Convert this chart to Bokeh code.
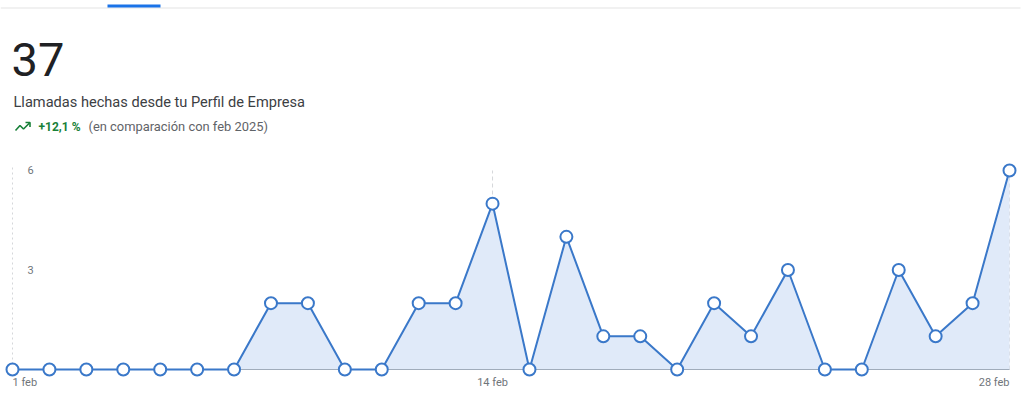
from bokeh.plotting import figure
from bokeh.models import Range1d, Label, ColumnDataSource
from bokeh.embed import file_html
from bokeh.resources import INLINE

# Daily calls, 1-28 feb
days = list(range(1, 29))
calls = [0, 0, 0, 0, 0, 0, 0, 2, 2, 0, 0, 2, 2, 5, 0, 4, 1, 1, 0, 2, 1, 3, 0, 0, 3, 1, 2, 6]
y_ticks = [3, 6]
x_tick_days = [1, 14, 28]
x_tick_labels = ["1 feb", "14 feb", "28 feb"]

total = sum(calls)
title_text = "Llamadas hechas desde tu Perfil de Empresa"
change_text = "+12,1 %"
compare_text = "(en comparación con feb 2025)"

W, H = 1024, 396
LINE = "#3a78c9"
FILL = "#e0eaf9"
FONT = "Roboto"

p = figure(width=W, height=H, output_backend="svg", toolbar_location=None,
           x_range=Range1d(0.675, 28.406), y_range=Range1d(-0.814, 11.125),
           min_border=0, outline_line_color=None)
p.axis.visible = False
p.grid.visible = False
# pixel-space ranges for page chrome (y measured from the top)
p.extra_x_ranges = {"px": Range1d(0, W)}
p.extra_y_ranges = {"px": Range1d(H, 0)}

# tab strip
p.segment(x0=0, y0=7.5, x1=1020, y1=7.5, x_range_name="px", y_range_name="px",
          line_color="#e3e3e3", line_width=1)
p.quad(left=107, right=160, top=4, bottom=7, x_range_name="px", y_range_name="px",
       fill_color="#1a73e8", line_color=None)

# headline
p.add_layout(Label(x=11, y=59, text=str(total), x_range_name="px", y_range_name="px",
                   text_font=FONT, text_font_size="47px", text_color="#202124",
                   text_baseline="middle"))
p.add_layout(Label(x=13, y=101, text=title_text, x_range_name="px", y_range_name="px",
                   text_font=FONT, text_font_size="14.6px", text_color="#3c4043",
                   text_baseline="middle"))
# trending-up icon
p.line(x=[15, 19.5, 23, 29], y=[130, 125, 128.5, 122.5], x_range_name="px", y_range_name="px",
       line_color="#188038", line_width=1.6)
p.line(x=[25, 29.5, 29.5], y=[122, 122, 126.5], x_range_name="px", y_range_name="px",
       line_color="#188038", line_width=1.6)
p.add_layout(Label(x=38, y=126, text=change_text, x_range_name="px", y_range_name="px",
                   text_font=FONT, text_font_size="12px", text_font_style="bold",
                   text_color="#188038", text_baseline="middle"))
p.add_layout(Label(x=88, y=126, text=compare_text, x_range_name="px", y_range_name="px",
                   text_font=FONT, text_font_size="12.9px", text_color="#5f6368",
                   text_baseline="middle"))

# reference lines
p.segment(x0=[days[0]], y0=[0], x1=[days[0]], y1=[6.15], line_color="#d5d7da",
          line_width=1, line_dash="2 3")
p.segment(x0=[14, 28], y0=[0, 0], x1=[14, 28], y1=[6, 6], line_color="#d5d7da",
          line_width=1, line_dash="4 3")

# area, baseline and series
src = ColumnDataSource(dict(d=days, v=calls, base=[0] * len(days)))
p.varea(x="d", y1="base", y2="v", source=src, fill_color=FILL, fill_alpha=1)
p.segment(x0=[days[0]], y0=[0], x1=[days[-1]], y1=[0], line_color="#a0acbb", line_width=1)
p.line(x="d", y="v", source=src, line_color=LINE, line_width=2)
p.scatter(x="d", y="v", source=src, size=12, fill_color="white", line_color=LINE,
          line_width=2)

# y tick labels
for t in y_ticks:
    p.add_layout(Label(x=27, y=t, x_range_name="px", text=str(t), text_font=FONT,
                       text_font_size="11px", text_color="#70757a", text_baseline="middle"))

# x tick labels
aligns = ["left", "center", "right"]
for d, lab, al in zip(x_tick_days, x_tick_labels, aligns):
    p.add_layout(Label(x=d, y=382, y_range_name="px", text=lab, text_font=FONT,
                       text_font_size="11px", text_color="#70757a", text_align=al,
                       text_baseline="middle"))

open("out.html", "w").write(file_html(p, INLINE))
